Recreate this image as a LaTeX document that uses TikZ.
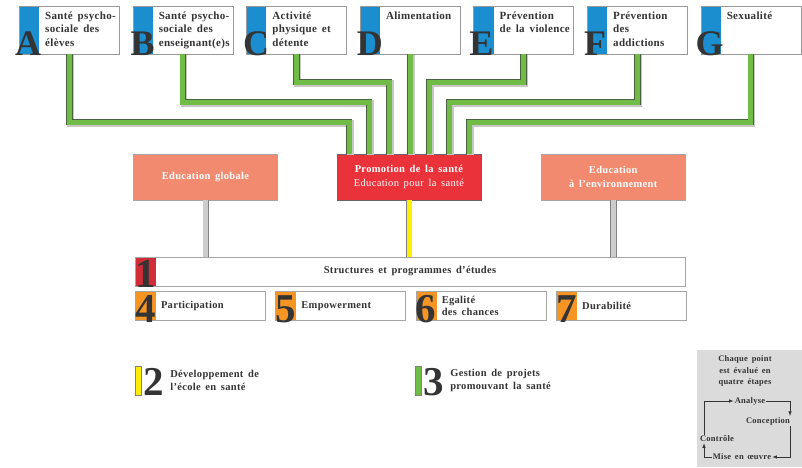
\documentclass[tikz,border=0pt]{standalone}
\usepackage{fontspec}
\setmainfont{Liberation Serif}[LetterSpace=3, WordSpace=1.6]
\newfontfamily\numberfont{Liberation Serif}
\usetikzlibrary{positioning, calc}

\definecolor{stripblue}{RGB}{27,142,208}
\definecolor{pathgreen}{RGB}{112,188,70}
\definecolor{pathdark}{RGB}{72,98,62}
\definecolor{promored}{RGB}{233,50,58}
\definecolor{salmon}{RGB}{242,138,112}
\definecolor{barred}{RGB}{208,45,56}
\definecolor{steporange}{RGB}{246,148,36}
\definecolor{linkgray}{RGB}{204,204,204}
\definecolor{boxgray}{RGB}{219,219,219}
\definecolor{textgray}{RGB}{52,52,52}
\definecolor{signyellow}{RGB}{255,238,0}

\begin{document}
\begin{tikzpicture}[
            x=1pt, y=-1pt,
            theme/.style={draw=gray!80, fill=white, minimum width=100pt, minimum height=48pt, inner sep=0pt, anchor=north west,
                path picture={\fill[stripblue] (path picture bounding box.north west) rectangle ([xshift=20pt]path picture bounding box.south west);}},
            themetext/.style={anchor=north west, align=left, inner sep=0pt, text=textgray, font=\fontsize{11}{13.5}\selectfont\bfseries},
            letter/.style={anchor=base, inner sep=0pt, text=textgray, font=\numberfont\fontsize{36}{36}\selectfont\bfseries},
            digit/.style={anchor=base, inner sep=0pt, text height=27pt, text depth=0pt, text=textgray, font=\numberfont\fontsize{41}{41}\selectfont\bfseries},
            pillar/.style={draw=gray!70, minimum width=144pt, minimum height=46pt, inner sep=0pt, align=center, text=white, font=\fontsize{10.5}{13.5}\selectfont},
            bar/.style={draw=gray!70, fill=white, minimum width=550pt, minimum height=29pt, inner sep=0pt, text=textgray, font=\fontsize{10.5}{12}\selectfont\bfseries,
                path picture={\fill[barred] (path picture bounding box.north west) rectangle ([xshift=21pt]path picture bounding box.south west);}},
            principle/.style={draw=gray!70, fill=white, minimum width=130pt, minimum height=29pt, inner sep=0pt, anchor=north west,
                path picture={\fill[steporange] (path picture bounding box.north west) rectangle ([xshift=21pt]path picture bounding box.south west);}},
            principletext/.style={anchor=west, align=left, inner sep=0pt, text=textgray, font=\fontsize{10.5}{12}\selectfont\bfseries},
            greenlink/.style={draw=pathdark, double=pathgreen, double distance=5pt, line width=0.8pt,
                preaction={draw=black!22, line width=6.8pt, transform canvas={shift={(1.2pt,-1.2pt)}}}},
            graylink/.style={draw=gray, double=linkgray, double distance=5pt, line width=0.6pt},
            yellowlink/.style={draw=gray, double=signyellow, double distance=5pt, line width=0.6pt},
            legendbar/.style={draw=gray, minimum width=6pt, minimum height=29pt, inner sep=0pt},
            legendtext/.style={anchor=west, align=left, inner sep=0pt, text=textgray, font=\fontsize{10.5}{12.5}\selectfont\bfseries},
            cyclebox/.style={fill=boxgray, minimum width=105pt, minimum height=117pt, inner sep=0pt, anchor=north west},
            cycletext/.style={inner sep=1pt, align=center, text=textgray, font=\fontsize{8.5}{11.5}\selectfont\bfseries},
            cycle/.style={draw=textgray, line width=0.6pt, -latex},
        ]
            \useasboundingbox (0,0) rectangle (802,467);

            % Themes
            \node[theme] (a) at (19,5.5) {};
            \node[theme, right=13.2pt of a] (b) {};
            \node[theme, right=13.2pt of b] (c) {};
            \node[theme, right=13.2pt of c] (d) {};
            \node[theme, right=13.2pt of d] (e) {};
            \node[theme, right=13.2pt of e] (f) {};
            \node[theme, right=13.2pt of f] (g) {};

            \node[themetext] (a text) at ([xshift=26pt, yshift=-6pt]a.north west) {Santé psycho-\\sociale des\\élèves};
            \node[themetext] (b text) at ([xshift=26pt, yshift=-6pt]b.north west) {Santé psycho-\\sociale des\\enseignant(e)s};
            \node[themetext] (c text) at ([xshift=26pt, yshift=-6pt]c.north west) {Activité\\physique et\\détente};
            \node[themetext] (d text) at ([xshift=26pt, yshift=-6pt]d.north west) {Alimentation};
            \node[themetext] (e text) at ([xshift=26pt, yshift=-6pt]e.north west) {Prévention\\de la violence};
            \node[themetext] (f text) at ([xshift=26pt, yshift=-6pt]f.north west) {Prévention\\des\\addictions};
            \node[themetext] (g text) at ([xshift=26pt, yshift=-6pt]g.north west) {Sexualité};

            \node[letter] (a letter) at ([xshift=9pt, yshift=-2pt]a.south west) {A};
            \node[letter] (b letter) at ([xshift=10pt, yshift=-2pt]b.south west) {B};
            \node[letter] (c letter) at ([xshift=10pt, yshift=-2pt]c.south west) {C};
            \node[letter] (d letter) at ([xshift=10pt, yshift=-2pt]d.south west) {D};
            \node[letter] (e letter) at ([xshift=8pt, yshift=-2pt]e.south west) {E};
            \node[letter] (f letter) at ([xshift=8pt, yshift=-2pt]f.south west) {F};
            \node[letter] (g letter) at ([xshift=9pt, yshift=-2pt]g.south west) {G};

            % Piliers
            \node[pillar, fill=promored, draw=black!60] (promo) at (409,177) {\textbf{Promotion de la santé}\\Education pour la santé};
            \node[pillar, fill=salmon, left=59pt of promo] (globale) {\textbf{Education globale}};
            \node[pillar, fill=salmon, right=60pt of promo] (environnement) {\textbf{Education}\\\textbf{à l'environnement}};

            % Niveaux des liaisons
            \coordinate (upper) at (0,82);
            \coordinate (middle) at (0,102);
            \coordinate (lower) at (0,122);

            \draw[greenlink] (a.south) -- (a.south |- lower) -| ([xshift=-60pt]promo.north);
            \draw[greenlink] (b.south) -- (b.south |- middle) -| ([xshift=-40pt]promo.north);
            \draw[greenlink] (c.south) -- (c.south |- upper) -| ([xshift=-20pt]promo.north);
            \draw[greenlink] (d.south) -- (d.south |- promo.north);
            \draw[greenlink] (e.south) -- (e.south |- upper) -| ([xshift=20pt]promo.north);
            \draw[greenlink] (f.south) -- (f.south |- middle) -| ([xshift=40pt]promo.north);
            \draw[greenlink] (g.south) -- (g.south |- lower) -| ([xshift=60pt]promo.north);

            % Structures
            \node[bar] (structures) at (410,271.5) {Structures et programmes d'études};
            \node[digit] (one) at ([xshift=10.5pt, yshift=-1.5pt]structures.south west) {1};

            \draw[graylink] (globale.south) -- (globale.south |- structures.north);
            \draw[yellowlink] (promo.south) -- (promo.south |- structures.north);
            \draw[graylink] (environnement.south) -- (environnement.south |- structures.north);

            % Principes
            \node[principle] (participation) at ([yshift=-5pt]structures.south west) {};
            \node[principle, right=10pt of participation] (empowerment) {};
            \node[principle, right=10pt of empowerment] (egalite) {};
            \node[principle, right=10pt of egalite] (durabilite) {};

            \node[principletext] (participation text) at ([xshift=26pt]participation.west) {Participation};
            \node[principletext] (empowerment text) at ([xshift=26pt]empowerment.west) {Empowerment};
            \node[principletext] (egalite text) at ([xshift=26pt]egalite.west) {Egalité\\des chances};
            \node[principletext] (durabilite text) at ([xshift=26pt]durabilite.west) {Durabilité};

            \node[digit] (four) at ([xshift=10.5pt, yshift=-2pt]participation.south west) {4};
            \node[digit] (five) at ([xshift=10.5pt, yshift=-2pt]empowerment.south west) {5};
            \node[digit] (six) at ([xshift=10.5pt, yshift=-2pt]egalite.south west) {6};
            \node[digit] (seven) at ([xshift=10.5pt, yshift=-2pt]durabilite.south west) {7};

            % Legende
            \node[legendbar, fill=signyellow] (dev bar) at (138,380.5) {};
            \node[digit, anchor=base west] (two) at ([xshift=2pt]dev bar.south east) {2};
            \node[legendtext] (dev text) at ([xshift=6pt]two.east |- dev bar.center) {Développement de\\l'école en santé};

            \node[legendbar, fill=pathgreen] (proj bar) at (418,380.5) {};
            \node[digit, anchor=base west] (three) at ([xshift=2pt]proj bar.south east) {3};
            \node[legendtext] (proj text) at ([xshift=6pt]three.east |- proj bar.center) {Gestion de projets\\promouvant la santé};

            % Cycle
            \node[cyclebox] (cycle box) at (697,350) {};
            \node[cycletext] (cycle title) at (745,371) {Chaque point\\est évalué en\\quatre étapes};
            \node[cycletext] (analyse) at (750,401) {Analyse};
            \node[cycletext] (conception) at (768,421) {Conception};
            \node[cycletext] (controle) at (717,439) {Contrôle};
            \node[cycletext] (mise) at (742,457) {Mise en œuvre};

            \draw[cycle] ([xshift=-13pt]controle.north) |- (analyse.west);
            \draw[cycle] (analyse.east) -| ([xshift=22pt]conception.north);
            \draw[cycle] ([xshift=22pt]conception.south) |- (mise.east);
            \draw[cycle] (mise.west) -| ([xshift=-13pt]controle.south);
        \end{tikzpicture}
\end{document}
